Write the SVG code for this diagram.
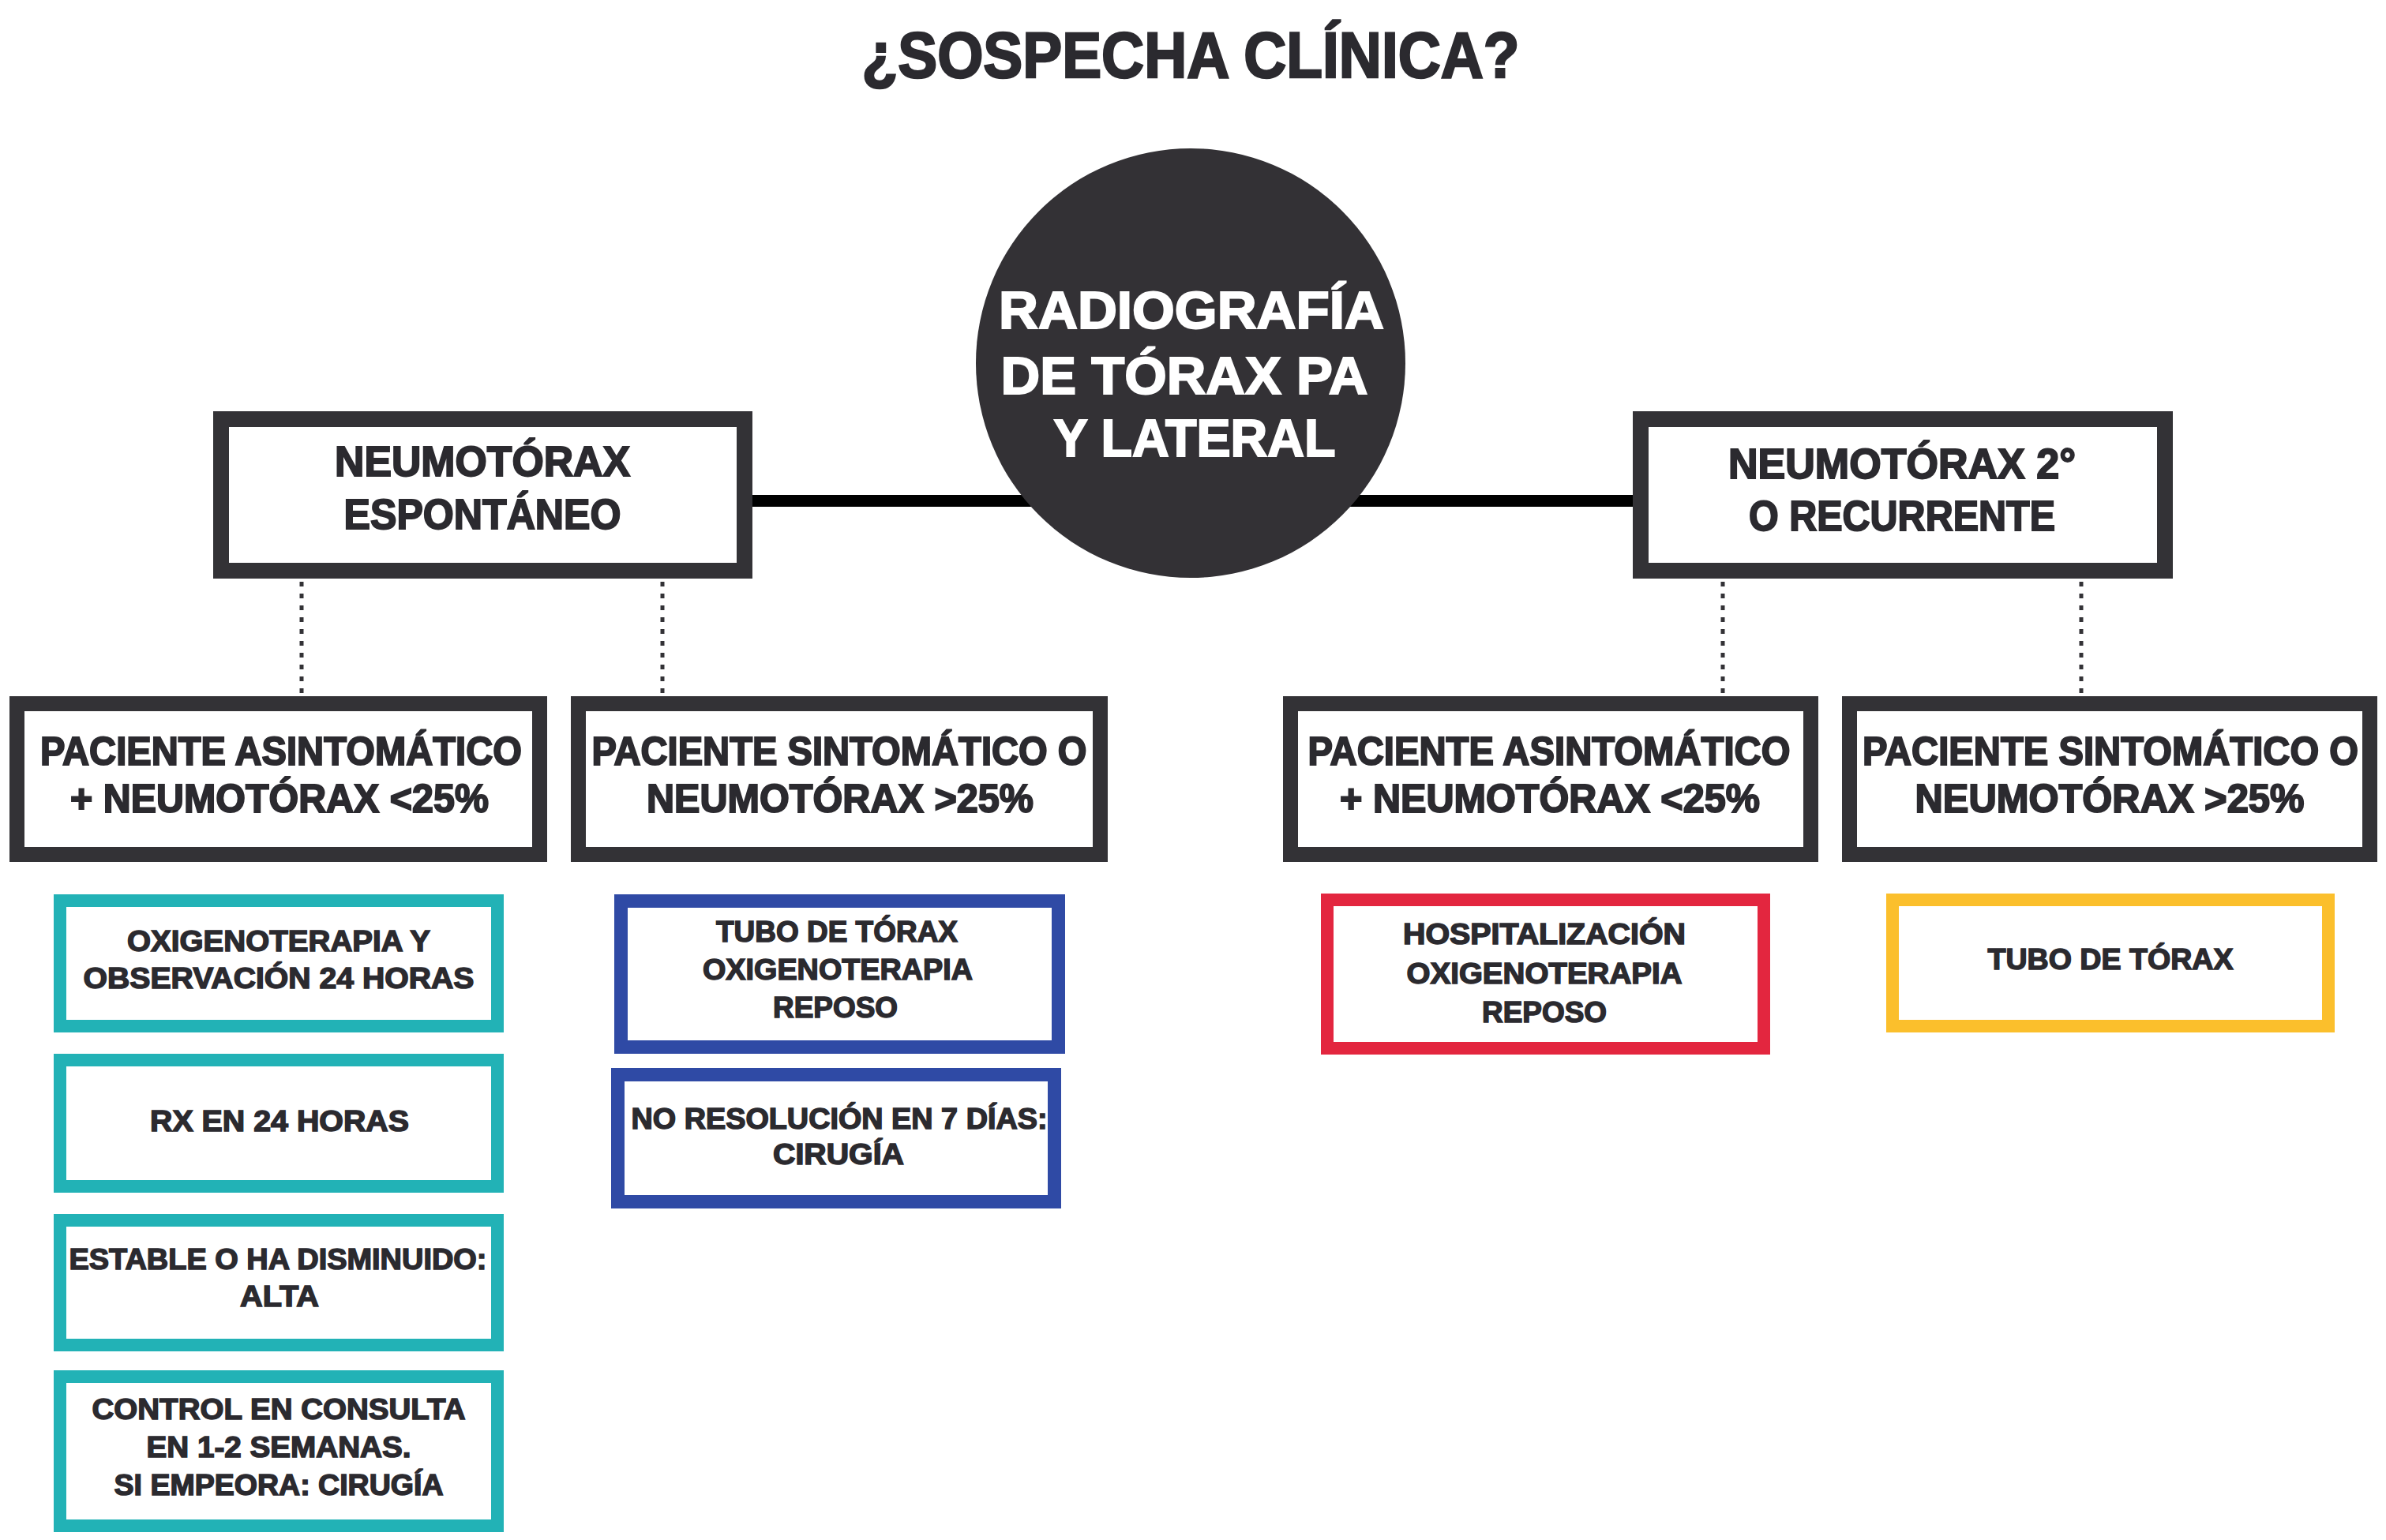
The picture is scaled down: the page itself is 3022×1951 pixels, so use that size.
<svg xmlns="http://www.w3.org/2000/svg" width="3022" height="1951" viewBox="0 0 3022 1951">
<style>
  text { font-family: "Liberation Sans", Arial, sans-serif; font-weight: bold; fill: #2b2a2f; stroke: #2b2a2f; stroke-width: 1.5; text-anchor: middle; }
  .title { font-size: 82px; stroke-width: 2.5; }
  .circ { font-size: 66px; fill: #ffffff; stroke: #ffffff; stroke-width: 2; }
  .l1 { font-size: 54px; stroke-width: 2; }
  .l2 { font-size: 50px; stroke-width: 2; }
  .s { font-size: 37px; stroke-width: 1.5; }
  .dark { fill: #ffffff; stroke: #333236; stroke-width: 20; }
  .dark2 { fill: #ffffff; stroke: #333236; stroke-width: 19; }
  .teal { fill: #ffffff; stroke: #22b2b6; stroke-width: 16; }
  .blue { fill: #ffffff; stroke: #2f4aa5; stroke-width: 17; }
  .red { fill: #ffffff; stroke: #e3263f; stroke-width: 16; }
  .yellow { fill: #ffffff; stroke: #fbbf2c; stroke-width: 16; }
  .dot { stroke: #333236; stroke-width: 5; stroke-dasharray: 6 9; fill: none; }
</style>
<rect width="3022" height="1951" fill="#ffffff"/>

<g id="title">
  <text class="title" x="1508" y="98" textLength="833" lengthAdjust="spacingAndGlyphs">¿SOSPECHA CLÍNICA?</text>
</g>

<g id="connectors">
  <line x1="953" y1="634.5" x2="2068" y2="634.5" stroke="#000000" stroke-width="15"/>
  <line class="dot" x1="382" y1="737" x2="382" y2="882"/>
  <line class="dot" x1="839" y1="737" x2="839" y2="882"/>
  <line class="dot" x1="2182" y1="737" x2="2182" y2="882"/>
  <line class="dot" x1="2636" y1="737" x2="2636" y2="882"/>
</g>

<g id="radiografia">
  <circle cx="1508" cy="460" r="272" fill="#333135"/>
  <text class="circ" x="1509" y="416" textLength="488" lengthAdjust="spacingAndGlyphs">RADIOGRAFÍA</text>
  <text class="circ" x="1500" y="499" textLength="465" lengthAdjust="spacingAndGlyphs">DE TÓRAX PA</text>
  <text class="circ" x="1513" y="578" textLength="357" lengthAdjust="spacingAndGlyphs">Y LATERAL</text>
</g>

<g id="espontaneo">
  <rect class="dark" x="280" y="531" width="663" height="192"/>
  <text class="l1" x="611" y="603" textLength="374" lengthAdjust="spacingAndGlyphs">NEUMOTÓRAX</text>
  <text class="l1" x="611" y="670" textLength="351" lengthAdjust="spacingAndGlyphs">ESPONTÁNEO</text>
</g>

<g id="recurrente">
  <rect class="dark" x="2078" y="531" width="664" height="192"/>
  <text class="l1" x="2409" y="606" textLength="440" lengthAdjust="spacingAndGlyphs">NEUMOTÓRAX 2°</text>
  <text class="l1" x="2409" y="672" textLength="388" lengthAdjust="spacingAndGlyphs">O RECURRENTE</text>
</g>

<g id="esp-asintomatico">
  <rect class="dark2" x="21.5" y="891.5" width="662" height="191"/>
  <text class="l2" x="356" y="969" textLength="610" lengthAdjust="spacingAndGlyphs">PACIENTE ASINTOMÁTICO</text>
  <text class="l2" x="354" y="1029" textLength="530" lengthAdjust="spacingAndGlyphs">+ NEUMOTÓRAX &lt;25%</text>
</g>

<g id="esp-sintomatico">
  <rect class="dark2" x="732.5" y="891.5" width="661" height="191"/>
  <text class="l2" x="1063" y="969" textLength="627" lengthAdjust="spacingAndGlyphs">PACIENTE SINTOMÁTICO O</text>
  <text class="l2" x="1064" y="1029" textLength="490" lengthAdjust="spacingAndGlyphs">NEUMOTÓRAX &gt;25%</text>
</g>

<g id="rec-asintomatico">
  <rect class="dark2" x="1634.5" y="891.5" width="659" height="191"/>
  <text class="l2" x="1962" y="969" textLength="611" lengthAdjust="spacingAndGlyphs">PACIENTE ASINTOMÁTICO</text>
  <text class="l2" x="1963" y="1029" textLength="532" lengthAdjust="spacingAndGlyphs">+ NEUMOTÓRAX &lt;25%</text>
</g>

<g id="rec-sintomatico">
  <rect class="dark2" x="2342.5" y="891.5" width="659" height="191"/>
  <text class="l2" x="2673" y="969" textLength="628" lengthAdjust="spacingAndGlyphs">PACIENTE SINTOMÁTICO O</text>
  <text class="l2" x="2672" y="1029" textLength="493" lengthAdjust="spacingAndGlyphs">NEUMOTÓRAX &gt;25%</text>
</g>

<g id="teal-1">
  <rect class="teal" x="76" y="1141" width="554" height="159"/>
  <text class="s" x="353" y="1205" textLength="384" lengthAdjust="spacingAndGlyphs">OXIGENOTERAPIA Y</text>
  <text class="s" x="353" y="1252" textLength="495" lengthAdjust="spacingAndGlyphs">OBSERVACIÓN 24 HORAS</text>
</g>

<g id="teal-2">
  <rect class="teal" x="76" y="1343" width="554" height="160"/>
  <text class="s" x="354" y="1433" textLength="328" lengthAdjust="spacingAndGlyphs">RX EN 24 HORAS</text>
</g>

<g id="teal-3">
  <rect class="teal" x="76" y="1546" width="554" height="158"/>
  <text class="s" x="352" y="1608" textLength="529" lengthAdjust="spacingAndGlyphs">ESTABLE O HA DISMINUIDO:</text>
  <text class="s" x="354" y="1655" textLength="100" lengthAdjust="spacingAndGlyphs">ALTA</text>
</g>

<g id="teal-4">
  <rect class="teal" x="76" y="1744" width="554" height="189"/>
  <text class="s" x="353" y="1798" textLength="473" lengthAdjust="spacingAndGlyphs">CONTROL EN CONSULTA</text>
  <text class="s" x="353" y="1846" textLength="335" lengthAdjust="spacingAndGlyphs">EN 1-2 SEMANAS.</text>
  <text class="s" x="353" y="1894" textLength="417" lengthAdjust="spacingAndGlyphs">SI EMPEORA: CIRUGÍA</text>
</g>

<g id="blue-1">
  <rect class="blue" x="786.5" y="1141.5" width="554" height="185"/>
  <text class="s" x="1060" y="1193" textLength="306" lengthAdjust="spacingAndGlyphs">TUBO DE TÓRAX</text>
  <text class="s" x="1061" y="1241" textLength="342" lengthAdjust="spacingAndGlyphs">OXIGENOTERAPIA</text>
  <text class="s" x="1058" y="1289" textLength="158" lengthAdjust="spacingAndGlyphs">REPOSO</text>
</g>

<g id="blue-2">
  <rect class="blue" x="782.5" y="1361.5" width="553" height="161"/>
  <text class="s" x="1063" y="1430" textLength="527" lengthAdjust="spacingAndGlyphs">NO RESOLUCIÓN EN 7 DÍAS:</text>
  <text class="s" x="1062" y="1475" textLength="166" lengthAdjust="spacingAndGlyphs">CIRUGÍA</text>
</g>

<g id="red-1">
  <rect class="red" x="1681" y="1140" width="553" height="188"/>
  <text class="s" x="1956" y="1196" textLength="358" lengthAdjust="spacingAndGlyphs">HOSPITALIZACIÓN</text>
  <text class="s" x="1956" y="1246" textLength="349" lengthAdjust="spacingAndGlyphs">OXIGENOTERAPIA</text>
  <text class="s" x="1956" y="1295" textLength="158" lengthAdjust="spacingAndGlyphs">REPOSO</text>
</g>

<g id="yellow-1">
  <rect class="yellow" x="2397" y="1140" width="552" height="160"/>
  <text class="s" x="2673" y="1228" textLength="311" lengthAdjust="spacingAndGlyphs">TUBO DE TÓRAX</text>
</g>
</svg>
